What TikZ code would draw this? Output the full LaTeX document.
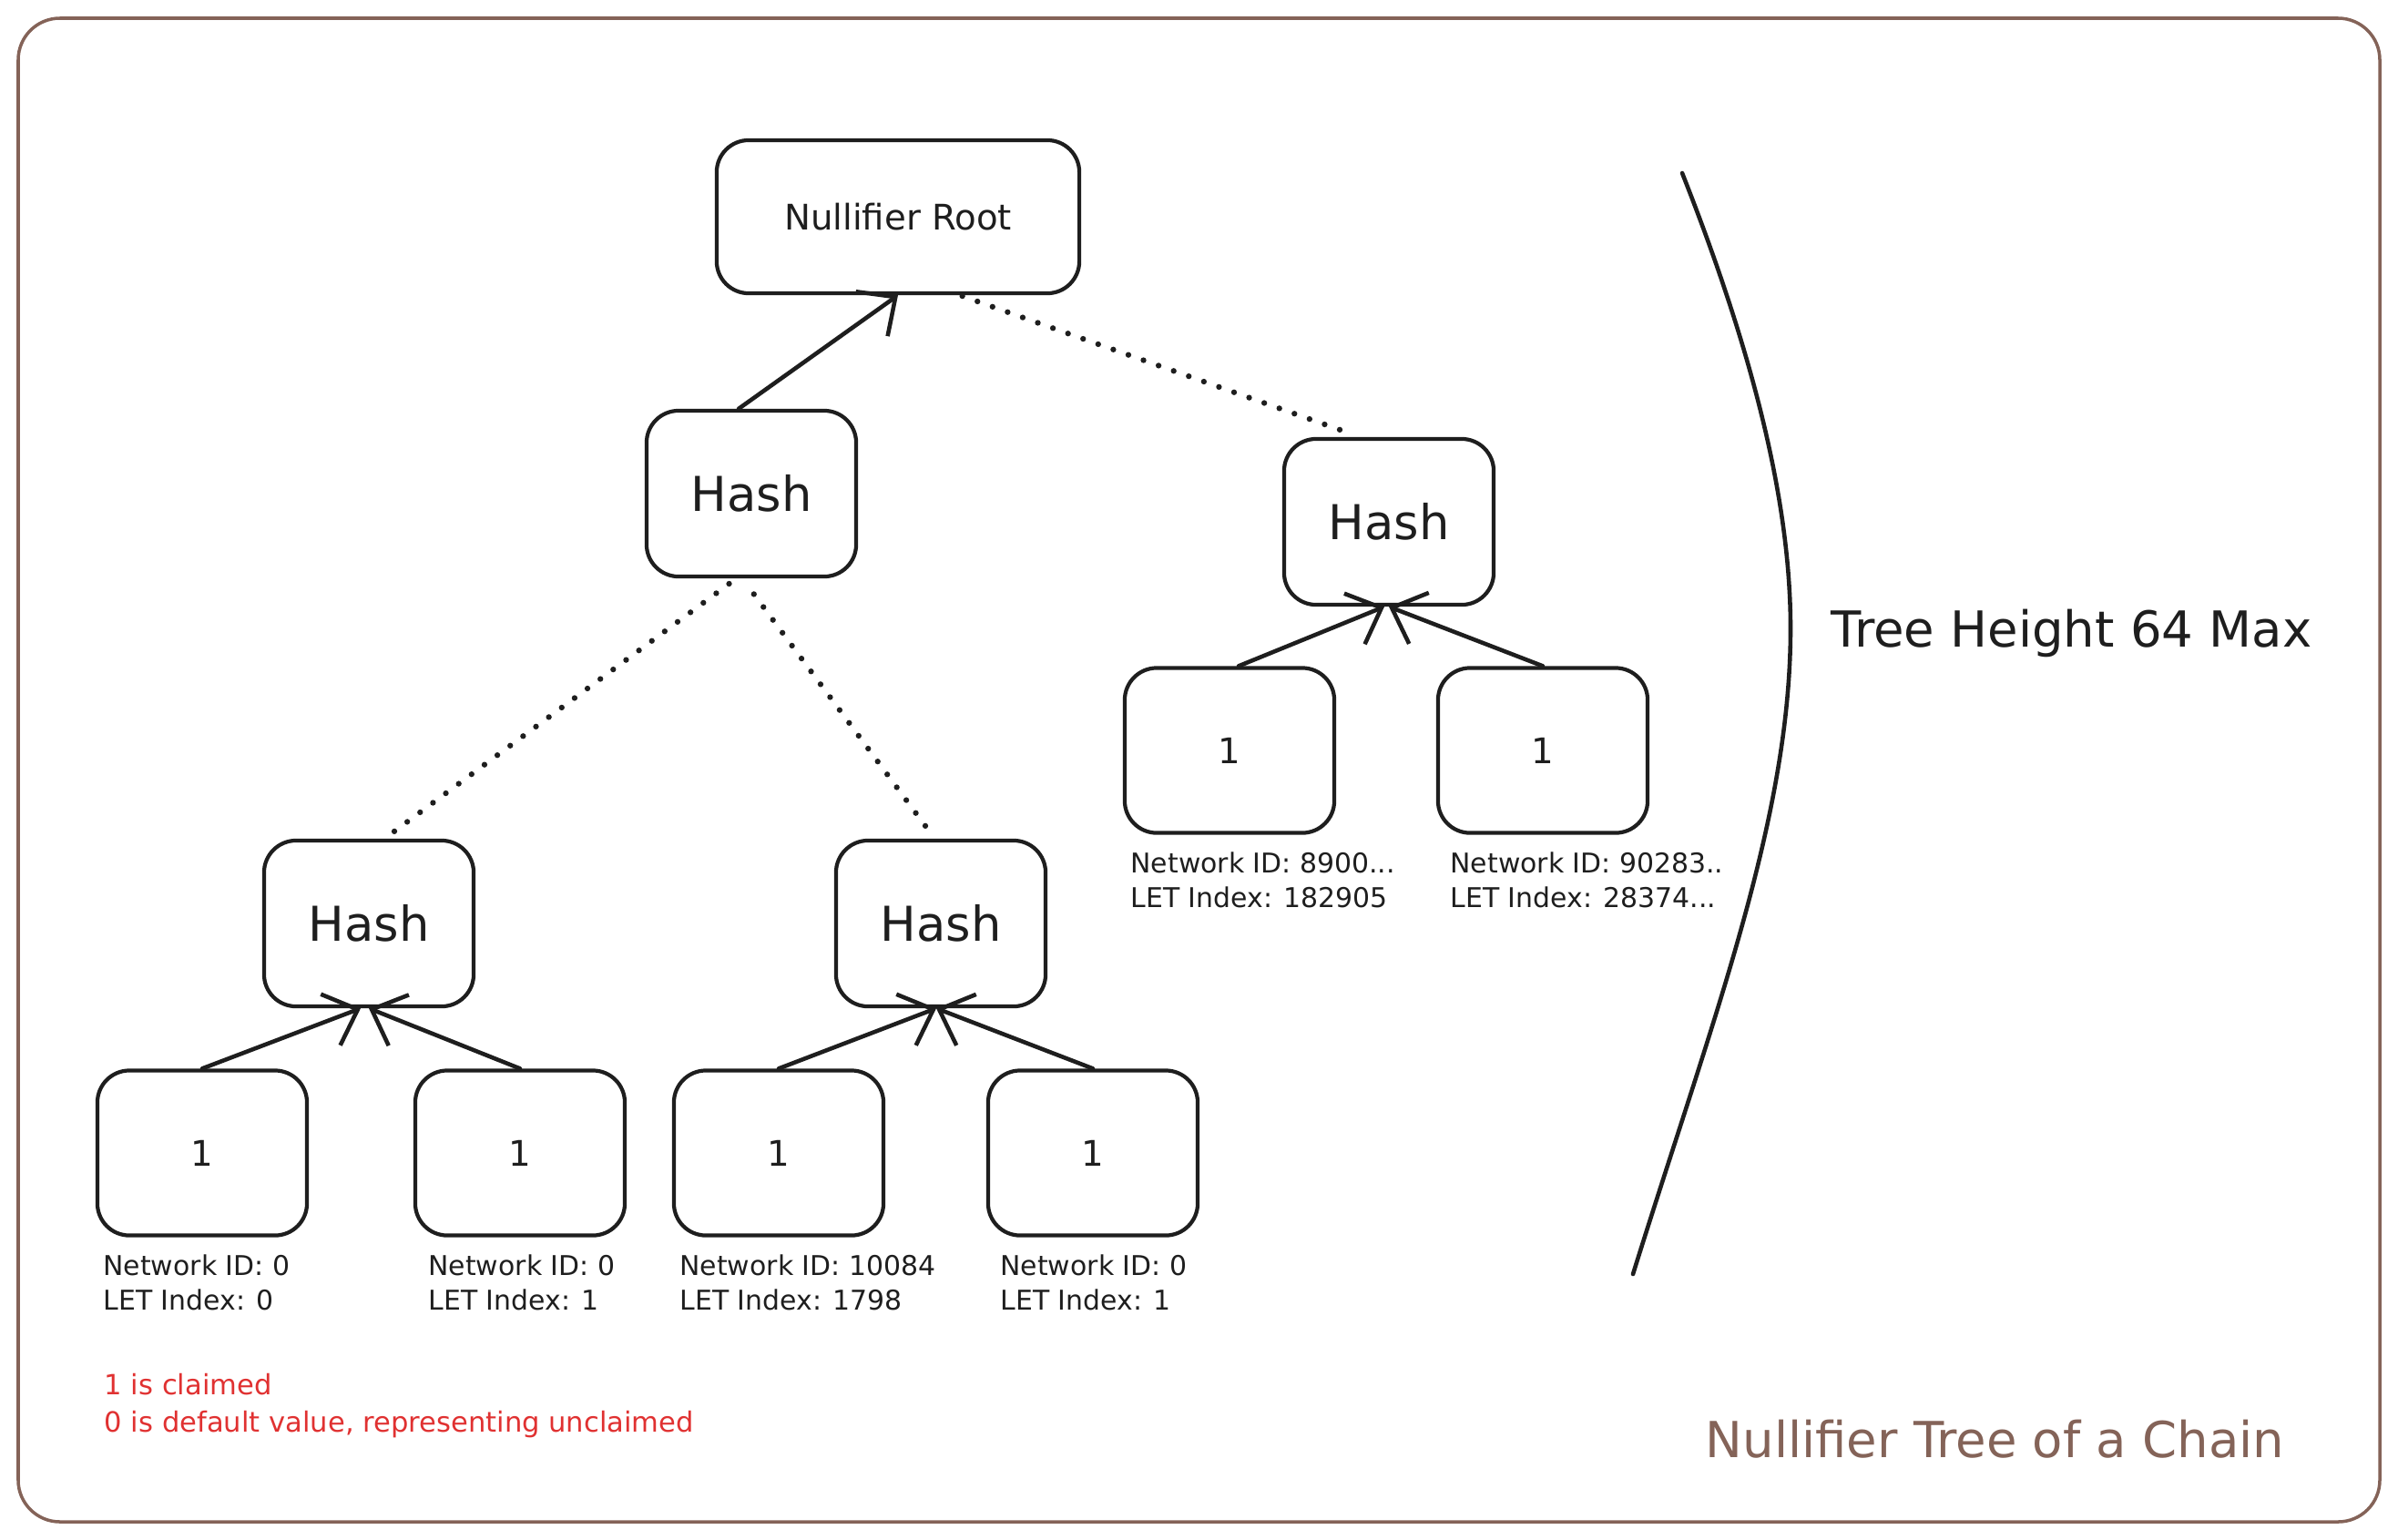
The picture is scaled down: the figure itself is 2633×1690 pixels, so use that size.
\documentclass[tikz,border=0pt]{standalone}
\usepackage{fontspec}
\setmainfont{DejaVu Sans}
\usetikzlibrary{arrows.meta,calc}
\definecolor{ink}{HTML}{1E1E1E}
\definecolor{framebrown}{HTML}{846358}
\definecolor{notered}{HTML}{E03131}
\tikzset{
  rootbox/.style={draw=ink,line width=1.2pt,rounded corners=10pt,
                  minimum width=3.98cm,minimum height=1.68cm,inner sep=0pt,
                  font=\fontsize{11}{13}\selectfont,text=ink},
  hashbox/.style={draw=ink,line width=1.2pt,rounded corners=10pt,
                  minimum width=2.30cm,minimum height=1.82cm,inner sep=0pt,
                  font=\fontsize{15}{18}\selectfont,text=ink},
  leafbox/.style={draw=ink,line width=1.2pt,rounded corners=10pt,
                  minimum width=2.30cm,minimum height=1.81cm,inner sep=0pt,
                  font=\fontsize{11}{13}\selectfont,text=ink},
  leafnote/.style={anchor=north west,align=left,inner sep=0pt,
                   font=\fontsize{8.5}{10.8}\selectfont,text=ink},
  uparr/.style={-{Straight Barb[length=3.2mm,width=6mm]},line width=1.3pt,
                draw=ink,line cap=round},
  dotlink/.style={line width=1.8pt,dash pattern=on 0pt off 5pt,
                  line cap=round,draw=ink}
}

\begin{document}
\begin{tikzpicture}[x=0.01cm,y=-0.01cm]
    \path[use as bounding box] (0,0) rectangle (2633,1690);
    \draw[framebrown,line width=1pt,rounded corners=13pt] (20,20) rectangle (2613,1671);
    % tree
    \node[rootbox] (root) at (986,238) {Nullifier Root};
    \node[hashbox] (hA) at (825,542) {Hash};
    \node[hashbox] (hB) at (1525,573) {Hash};
    \node[hashbox] (hC) at (405,1014) {Hash};
    \node[hashbox] (hD) at (1033,1014) {Hash};
    \node[leafbox] (l1) at (222,1266) {1};
    \node[leafbox] (l2) at (571,1266) {1};
    \node[leafbox] (l3) at (855,1266) {1};
    \node[leafbox] (l4) at (1200,1266) {1};
    \node[leafbox] (r1) at (1350,824) {1};
    \node[leafbox] (r2) at (1694,824) {1};
    \node[leafnote] (l1note) at ($(l1.south west)+(8,18)$) {Network ID: 0\\LET Index: 0};
    \node[leafnote] (l2note) at ($(l2.south west)+(16,18)$) {Network ID: 0\\LET Index: 1};
    \node[leafnote] (l3note) at ($(l3.south west)+(8,18)$) {Network ID: 10084\\LET Index: 1798};
    \node[leafnote] (l4note) at ($(l4.south west)+(15,18)$) {Network ID: 0\\LET Index: 1};
    \node[leafnote] (r1note) at ($(r1.south west)+(8,18)$) {Network ID: 8900...\\LET Index: 182905};
    \node[leafnote] (r2note) at ($(r2.south west)+(15,18)$) {Network ID: 90283..\\LET Index: 28374...};
    \draw[uparr] ($(hA.north)+(-14,0)$) -- (root.south);
    \draw[dotlink] ($(hB.north)+(-54,-8)$) -- ($(root.south)+(68,0)$);
    \draw[dotlink] ($(hC.north)+(28,-8)$) -- ($(hA.south)+(-22,4)$);
    \draw[dotlink] ($(hD.north)+(-17,-14)$) -- ($(hA.south)+(-7,4)$);
    \draw[uparr] (l1.north) -- ($(hC.south)+(-9,0)$);
    \draw[uparr] (l2.north) -- (hC.south);
    \draw[uparr] (l3.north) -- ($(hD.south)+(-5,0)$);
    \draw[uparr] (l4.north) -- ($(hD.south)+(-5,0)$);
    \draw[uparr] ($(r1.north)+(10,0)$) -- ($(hB.south)+(-5,0)$);
    \draw[uparr] (r2.north) -- (hB.south);
    % height brace
    \draw[ink,line width=1.3pt,line cap=round] (1847,190)
      .. controls (1930,400) and (1966,560) .. (1966,690)
      .. controls (1966,900) and (1880,1120) .. (1793,1399);
    \node[anchor=west,inner sep=0pt,font=\fontsize{15.5}{18}\selectfont,text=ink] (height) at (2010,695) {Tree Height 64 Max};
    % notes
    \node[anchor=north west,align=left,inner sep=0pt,font=\fontsize{8.7}{11.4}\selectfont,text=notered] (legend) at (114,1508)
      {1 is claimed\\0 is default value, representing unclaimed};
    \node[anchor=west,inner sep=0pt,font=\fontsize{15.5}{18}\selectfont,text=framebrown] (title) at (1872,1580) {Nullifier Tree of a Chain};
  \end{tikzpicture}
\end{document}
